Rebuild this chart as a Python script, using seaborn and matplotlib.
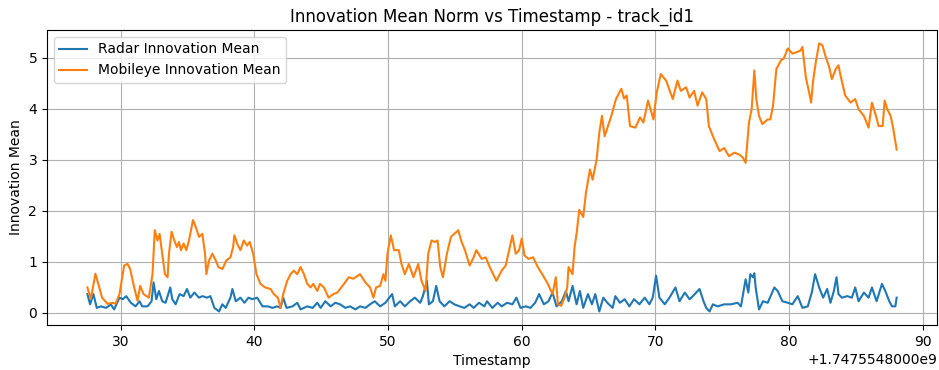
import matplotlib
matplotlib.use("Agg")
import matplotlib.pyplot as plt
import matplotlib.ticker as mticker
import seaborn as sns
import numpy as np

BASE_TS = 1747554800.0
OFFSET_LABEL = "+1.7475548000e9"

radar_t = [27.5, 27.7, 27.95, 28.2, 28.5, 28.9, 29.25, 29.5, 29.9, 30.15, 30.4, 30.75, 31.1, 31.4, 31.6,
           32.0, 32.3, 32.45, 32.65, 32.85, 33.1, 33.35, 33.7, 33.85, 34.1, 34.4, 34.7, 34.95, 35.2, 35.5,
           35.85, 36.1, 36.45, 36.7, 37.0, 37.35, 37.6, 37.85, 38.2, 38.35, 38.6, 38.95, 39.25, 39.55, 39.85,
           40.2, 40.6, 41.0, 41.35, 41.7, 41.95, 42.15, 42.4, 42.85, 43.2, 43.45, 43.95, 44.35, 44.7, 44.95,
           45.3, 45.7, 46.05, 46.4, 46.8, 47.15, 47.55, 47.9, 48.3, 48.65, 49.0, 49.4, 49.8, 50.0, 50.3,
           50.5, 50.9, 51.25, 51.65, 52.0, 52.4, 52.6, 52.9, 53.05, 53.35, 53.6, 53.85, 54.2, 54.6, 54.95,
           55.35, 55.7, 56.1, 56.4, 56.8, 57.2, 57.4, 57.8, 58.2, 58.5, 58.9, 59.3, 59.6, 59.9, 60.3,
           60.65, 61.0, 61.3, 61.65, 62.0, 62.3, 62.6, 63.0, 63.3, 63.5, 63.8, 64.1, 64.35, 64.6, 64.95,
           65.25, 65.5, 65.8, 66.1, 66.4, 66.8, 67.0, 67.35, 67.7, 68.05, 68.4, 68.8, 69.2, 69.55, 69.8,
           70.05, 70.3, 70.7, 71.05, 71.5, 71.8, 72.2, 72.55, 72.8, 73.3, 73.6, 73.8, 74.05, 74.3, 74.65,
           75.15, 75.65, 76.15, 76.4, 76.75, 76.95, 77.1, 77.3, 77.4, 77.5, 77.75, 78.05, 78.4, 78.9, 79.15,
           79.5, 79.9, 80.25, 80.65, 81.0, 81.4, 81.7, 81.95, 82.25, 82.55, 82.85, 83.1, 83.35, 83.55, 83.7,
           83.95, 84.35, 84.7, 84.95, 85.2, 85.6, 85.95, 86.2, 86.55, 86.95, 87.2, 87.5, 87.7, 87.95, 88.05]
radar_v = [0.37, 0.17, 0.37, 0.10, 0.13, 0.10, 0.17, 0.07, 0.30, 0.27, 0.33, 0.20, 0.13, 0.23, 0.13,
           0.13, 0.23, 0.60, 0.27, 0.43, 0.23, 0.20, 0.50, 0.27, 0.17, 0.37, 0.33, 0.47, 0.30, 0.40,
           0.30, 0.33, 0.30, 0.33, 0.10, 0.03, 0.17, 0.10, 0.30, 0.47, 0.23, 0.30, 0.20, 0.30, 0.27,
           0.30, 0.13, 0.13, 0.10, 0.13, 0.10, 0.30, 0.10, 0.13, 0.20, 0.07, 0.13, 0.10, 0.20, 0.10,
           0.23, 0.13, 0.20, 0.17, 0.10, 0.13, 0.07, 0.13, 0.10, 0.17, 0.23, 0.13, 0.20, 0.27, 0.37,
           0.13, 0.23, 0.13, 0.23, 0.30, 0.20, 0.33, 0.63, 0.17, 0.23, 0.53, 0.23, 0.13, 0.23, 0.17,
           0.13, 0.10, 0.17, 0.10, 0.20, 0.13, 0.23, 0.10, 0.20, 0.13, 0.20, 0.17, 0.30, 0.10, 0.13,
           0.10, 0.20, 0.37, 0.17, 0.23, 0.40, 0.13, 0.23, 0.43, 0.23, 0.53, 0.17, 0.43, 0.10, 0.37,
           0.17, 0.37, 0.03, 0.30, 0.20, 0.10, 0.33, 0.20, 0.27, 0.13, 0.27, 0.17, 0.30, 0.17, 0.30,
           0.73, 0.30, 0.17, 0.30, 0.50, 0.23, 0.40, 0.27, 0.33, 0.47, 0.23, 0.10, 0.03, 0.17, 0.13,
           0.17, 0.17, 0.20, 0.13, 0.66, 0.40, 0.76, 0.70, 0.78, 0.50, 0.07, 0.23, 0.20, 0.50, 0.43,
           0.23, 0.20, 0.17, 0.33, 0.10, 0.13, 0.40, 0.76, 0.50, 0.30, 0.47, 0.20, 0.43, 0.70, 0.37,
           0.30, 0.33, 0.30, 0.50, 0.23, 0.40, 0.30, 0.50, 0.23, 0.57, 0.43, 0.23, 0.13, 0.13, 0.30]

mobileye_t = [27.5, 27.76, 28.1, 28.6, 29.0, 29.4, 29.6, 29.9, 30.25, 30.5, 30.7, 31.0, 31.25, 31.45, 31.7,
              32.1, 32.37, 32.54, 32.74, 32.9, 33.1, 33.3, 33.5, 33.6, 33.8, 34.0, 34.2, 34.35, 34.5, 34.7,
              34.9, 35.1, 35.4, 35.6, 35.85, 36.1, 36.3, 36.4, 36.6, 36.85, 37.1, 37.3, 37.6, 37.9, 38.2,
              38.4, 38.5, 38.7, 38.95, 39.2, 39.45, 39.65, 39.9, 40.15, 40.45, 40.8, 41.2, 41.45, 41.75, 41.95,
              42.15, 42.45, 42.7, 42.95, 43.2, 43.45, 43.7, 43.95, 44.2, 44.4, 44.7, 44.9, 45.2, 45.55, 45.9,
              46.2, 46.7, 47.05, 47.4, 47.9, 48.3, 48.65, 48.9, 49.1, 49.4, 49.65, 49.8, 49.95, 50.2, 50.45,
              50.8, 51.0, 51.25, 51.55, 51.9, 52.25, 52.5, 52.8, 53.0, 53.25, 53.5, 53.7, 53.9, 54.1, 54.4,
              54.7, 54.95, 55.25, 55.5, 55.75, 56.1, 56.4, 56.6, 57.0, 57.3, 57.6, 58.1, 58.5, 58.8, 59.1,
              59.3, 59.55, 59.8, 60.0, 60.2, 60.5, 60.85, 61.2, 61.6, 61.95, 62.3, 62.55, 62.7, 62.95, 63.2,
              63.4, 63.5, 63.8, 63.95, 64.1, 64.3, 64.6, 64.8, 65.1, 65.3, 65.6, 65.8, 66.0, 66.2, 66.45,
              66.7, 67.05, 67.45, 67.65, 67.85, 68.1, 68.5, 68.85, 69.1, 69.45, 69.85, 70.1, 70.4, 70.8, 71.3,
              71.65, 71.9, 72.3, 72.55, 72.9, 73.15, 73.5, 73.8, 74.0, 74.4, 74.8, 75.15, 75.5, 75.9, 76.3,
              76.55, 76.75, 77.0, 77.2, 77.4, 77.55, 77.75, 78.0, 78.4, 78.6, 78.8, 79.05, 79.4, 79.6, 79.9,
              80.25, 80.6, 80.85, 81.0, 81.25, 81.5, 81.65, 81.8, 82.0, 82.25, 82.5, 82.7, 83.0, 83.2, 83.5,
              83.7, 83.85, 84.2, 84.6, 84.95, 85.2, 85.6, 85.95, 86.2, 86.5, 86.7, 87.0, 87.15, 87.35, 87.6,
              87.8, 88.05]
mobileye_v = [0.50, 0.28, 0.77, 0.30, 0.18, 0.20, 0.18, 0.37, 0.93, 0.96, 0.86, 0.50, 0.24, 0.53, 0.37,
              0.30, 0.76, 1.62, 1.42, 1.55, 1.16, 0.76, 0.70, 1.16, 1.59, 1.42, 1.29, 1.39, 1.23, 1.36,
              1.23, 1.42, 1.82, 1.69, 1.49, 1.55, 1.16, 0.76, 1.03, 1.16, 1.03, 0.90, 0.86, 1.03, 1.09,
              1.29, 1.52, 1.36, 1.23, 1.42, 1.32, 1.39, 1.16, 0.76, 0.57, 0.50, 0.47, 0.37, 0.30, 0.10,
              0.37, 0.63, 0.76, 0.83, 0.76, 0.90, 0.76, 0.57, 0.50, 0.57, 0.43, 0.57, 0.50, 0.30, 0.37,
              0.40, 0.57, 0.70, 0.67, 0.76, 0.60, 0.50, 0.30, 0.50, 0.53, 0.76, 0.63, 1.16, 1.52, 1.23,
              1.23, 0.96, 0.76, 0.96, 0.70, 0.96, 0.63, 0.43, 1.16, 1.42, 1.39, 1.42, 0.90, 0.70, 1.16,
              1.49, 1.55, 1.62, 1.39, 1.23, 0.93, 1.09, 1.23, 1.06, 1.09, 0.90, 0.63, 0.83, 0.93, 1.29,
              1.52, 1.16, 1.23, 1.46, 1.13, 1.06, 1.09, 0.90, 0.73, 0.57, 0.37, 0.70, 0.17, 0.14, 0.30,
              0.50, 0.90, 0.76, 1.29, 1.55, 2.02, 1.88, 2.35, 2.81, 2.61, 3.00, 3.53, 3.86, 3.46, 3.66,
              3.86, 4.19, 4.39, 4.20, 4.26, 3.66, 3.63, 3.83, 3.73, 4.16, 3.79, 4.32, 4.68, 4.55, 4.19,
              4.55, 4.35, 4.42, 4.22, 4.35, 4.06, 4.32, 4.19, 3.66, 3.40, 3.17, 3.23, 3.07, 3.14, 3.10,
              3.04, 2.94, 3.73, 3.99, 4.75, 4.19, 3.86, 3.70, 3.79, 3.79, 4.06, 4.78, 4.95, 4.98, 5.18,
              5.08, 5.11, 5.14, 5.21, 4.62, 4.32, 4.12, 4.55, 4.91, 5.28, 5.24, 5.05, 4.82, 4.58, 4.78,
              4.85, 4.65, 4.26, 4.12, 4.19, 3.99, 3.86, 3.63, 4.12, 3.86, 3.66, 3.66, 4.16, 3.99, 3.86,
              3.60, 3.20]


class FixedOffsetFormatter(mticker.ScalarFormatter):
    def get_offset(self):
        return OFFSET_LABEL


fig, ax = plt.subplots(figsize=(9.39, 3.70), dpi=100)
fig.subplots_adjust(left=0.05, right=0.998, top=0.919, bottom=0.122)

sns.lineplot(x=BASE_TS + np.array(radar_t), y=radar_v, ax=ax, color="tab:blue",
             label="Radar Innovation Mean", estimator=None, linewidth=1.5)
sns.lineplot(x=BASE_TS + np.array(mobileye_t), y=mobileye_v, ax=ax, color="tab:orange",
             label="Mobileye Innovation Mean", estimator=None, linewidth=1.5)

fmt = FixedOffsetFormatter(useOffset=BASE_TS)
ax.xaxis.set_major_formatter(fmt)

ax.set_title("Innovation Mean Norm vs Timestamp - track_id1")
ax.set_xlabel("Timestamp")
ax.set_ylabel("Innovation Mean")
ax.grid(True)
ax.legend(loc="upper left")

fig.savefig("out.png", dpi=100)
